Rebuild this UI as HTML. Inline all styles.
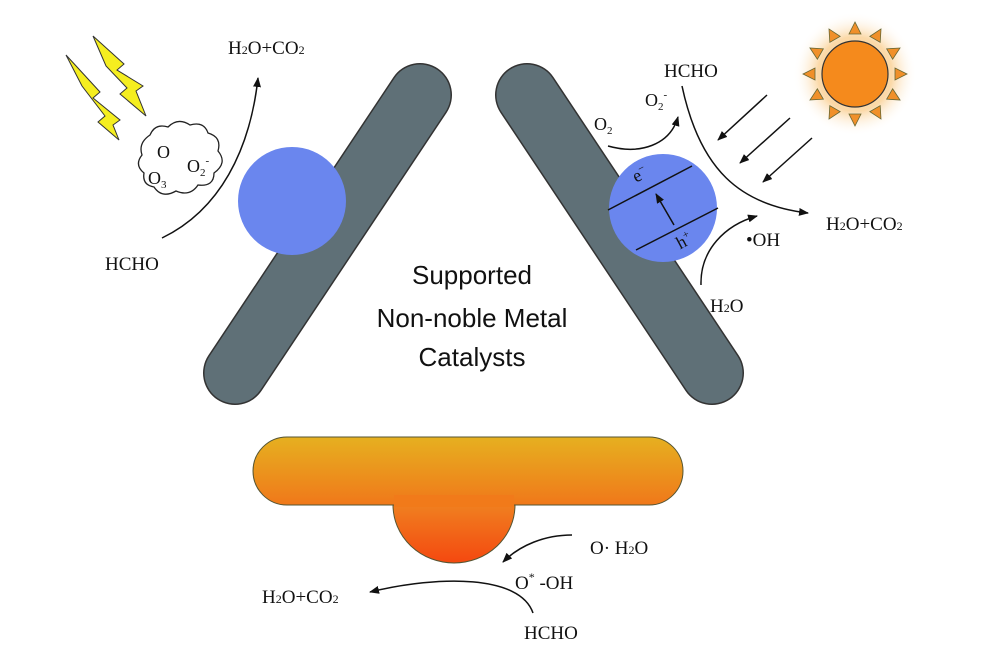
<!DOCTYPE html>
<html><head><meta charset="utf-8"><style>body{margin:0;background:#fff}svg{display:block}text{font-family:"Liberation Serif",serif;fill:#111}</style></head><body>
<svg width="1000" height="650" viewBox="0 0 1000 650" xmlns="http://www.w3.org/2000/svg">
<defs>
<marker id="a" markerWidth="10" markerHeight="8" refX="9" refY="4" orient="auto" markerUnits="userSpaceOnUse"><path d="M0,0 L10,4 L0,8 Z" fill="#111"/></marker>
<linearGradient id="g1" x1="0" y1="0" x2="0" y2="1"><stop offset="0" stop-color="#e6b020"/><stop offset="1" stop-color="#f0781a"/></linearGradient>
<linearGradient id="g2" x1="0" y1="0" x2="0" y2="1"><stop offset="0" stop-color="#f08020"/><stop offset="1" stop-color="#f44a10"/></linearGradient>
<radialGradient id="glow"><stop offset="0.6" stop-color="#fbd9a8"/><stop offset="1" stop-color="#fff" stop-opacity="0"/></radialGradient>
</defs>
<line x1="420" y1="95" x2="235" y2="373" stroke="#333" stroke-width="64" stroke-linecap="round"/>
<line x1="420" y1="95" x2="235" y2="373" stroke="#5f7077" stroke-width="61" stroke-linecap="round"/>
<line x1="527" y1="95" x2="712" y2="373" stroke="#333" stroke-width="64" stroke-linecap="round"/>
<line x1="527" y1="95" x2="712" y2="373" stroke="#5f7077" stroke-width="61" stroke-linecap="round"/>
<circle cx="292" cy="201" r="54" fill="#6a86ee"/>
<circle cx="663" cy="208" r="54" fill="#6a86ee"/>
<line x1="608" y1="210" x2="692" y2="166" stroke="#111" stroke-width="1.5"/>
<line x1="636" y1="250" x2="718" y2="208" stroke="#111" stroke-width="1.5"/>
<line x1="674" y1="225" x2="656" y2="194" stroke="#111" stroke-width="1.5" marker-end="url(#a)"/>
<text x="633" y="180" font-size="18" transform="rotate(-28 640 175)">e<tspan font-size="11" dy="-7">−</tspan></text>
<text x="676" y="247" font-size="18" transform="rotate(-28 683 240)">h<tspan font-size="11" dy="-7">+</tspan></text>
<g text-anchor="middle" fill="#222" font-size="26">
<text x="472" y="284" style="font-family:'Liberation Sans',sans-serif">Supported</text>
<text x="472" y="327" style="font-family:'Liberation Sans',sans-serif">Non-noble Metal</text>
<text x="472" y="366" style="font-family:'Liberation Sans',sans-serif">Catalysts</text>
</g>
<path d="M66,55 L100,92 L93,98 L120,120 L113,125 L119,140 L98,122 L105,116 L82,86 Z" fill="#f5ee20" stroke="#333" stroke-width="1"/>
<path d="M93,36 L124,64 L117,70 L143,86 L136,91 L146,116 L120,94 L127,88 L106,66 Z" fill="#f5ee20" stroke="#333" stroke-width="1"/>
<path d="M150,135 q5,-12 18,-8 q10,-10 22,-2 q14,-4 18,8 q14,4 10,18 q10,12 -4,22 q0,14 -16,12 q-8,12 -22,6 q-14,8 -22,-4 q-12,-2 -10,-14 q-10,-8 -2,-18 q-4,-12 8,-20 z" fill="#fff" stroke="#222" stroke-width="1.3"/>
<text x="157" y="158" font-size="18">O</text>
<text x="148" y="184" font-size="18">O<tspan font-size="11" dy="4">3</tspan></text>
<text x="187" y="172" font-size="18">O<tspan font-size="11" dy="4">2</tspan><tspan font-size="11" dy="-12">-</tspan></text>
<path d="M162,238 C220,210 250,150 258,78" fill="none" stroke="#111" stroke-width="1.5" marker-end="url(#a)"/>
<text x="105" y="270" font-size="19">HCHO</text>
<text x="228" y="54" font-size="19">H<tspan font-size="12">2</tspan>O+CO<tspan font-size="12">2</tspan></text>
<circle cx="855" cy="74" r="62" fill="url(#glow)"/>
<g fill="#f0902a" stroke="#663" stroke-width="0.8">
<g id="t"><path d="M855,22 L849,34 L861,34 Z"/></g>
<use href="#t" transform="rotate(30 855 74)"/><use href="#t" transform="rotate(60 855 74)"/><use href="#t" transform="rotate(90 855 74)"/><use href="#t" transform="rotate(120 855 74)"/><use href="#t" transform="rotate(150 855 74)"/><use href="#t" transform="rotate(180 855 74)"/><use href="#t" transform="rotate(210 855 74)"/><use href="#t" transform="rotate(240 855 74)"/><use href="#t" transform="rotate(270 855 74)"/><use href="#t" transform="rotate(300 855 74)"/><use href="#t" transform="rotate(330 855 74)"/>
</g>
<circle cx="855" cy="74" r="33" fill="#f58a1c" stroke="#333" stroke-width="1.2"/>
<line x1="767" y1="95" x2="718" y2="140" stroke="#111" stroke-width="1.5" marker-end="url(#a)"/>
<line x1="790" y1="118" x2="740" y2="163" stroke="#111" stroke-width="1.5" marker-end="url(#a)"/>
<line x1="812" y1="138" x2="763" y2="182" stroke="#111" stroke-width="1.5" marker-end="url(#a)"/>
<text x="664" y="77" font-size="19">HCHO</text>
<text x="645" y="106" font-size="18">O<tspan font-size="11" dy="4">2</tspan><tspan font-size="11" dy="-12">-</tspan></text>
<text x="594" y="130" font-size="18">O<tspan font-size="11" dy="4">2</tspan></text>
<path d="M608,146 C640,155 670,145 678,117" fill="none" stroke="#111" stroke-width="1.5" marker-end="url(#a)"/>
<path d="M682,86 C700,170 740,205 808,213" fill="none" stroke="#111" stroke-width="1.5" marker-end="url(#a)"/>
<text x="826" y="230" font-size="19">H<tspan font-size="12">2</tspan>O+CO<tspan font-size="12">2</tspan></text>
<text x="746" y="246" font-size="19">•OH</text>
<path d="M701,285 C700,250 725,225 757,216" fill="none" stroke="#111" stroke-width="1.5" marker-end="url(#a)"/>
<text x="710" y="312" font-size="19">H<tspan font-size="12">2</tspan>O</text>
<path d="M393,505 A61,58 0 0 0 515,505 Z" fill="url(#g2)" stroke="#553" stroke-width="1"/>
<rect x="253" y="437" width="430" height="68" rx="34" fill="url(#g1)" stroke="#553" stroke-width="1"/>
<path d="M394,504 A60,57 0 0 0 514,504 Z" fill="url(#g2)"/>
<rect x="394" y="495" width="120" height="12" fill="#f17a1a"/>
<text x="590" y="554" font-size="19">O· H<tspan font-size="12">2</tspan>O</text>
<text x="515" y="589" font-size="19">O<tspan font-size="12" dy="-8">*</tspan><tspan dy="8"> -OH</tspan></text>
<path d="M572,535 C545,535 520,545 503,562" fill="none" stroke="#111" stroke-width="1.5" marker-end="url(#a)"/>
<text x="262" y="603" font-size="19">H<tspan font-size="12">2</tspan>O+CO<tspan font-size="12">2</tspan></text>
<path d="M533,613 C520,575 440,575 370,592" fill="none" stroke="#111" stroke-width="1.5" marker-end="url(#a)"/>
<text x="524" y="639" font-size="19">HCHO</text>
</svg>
</body></html>
